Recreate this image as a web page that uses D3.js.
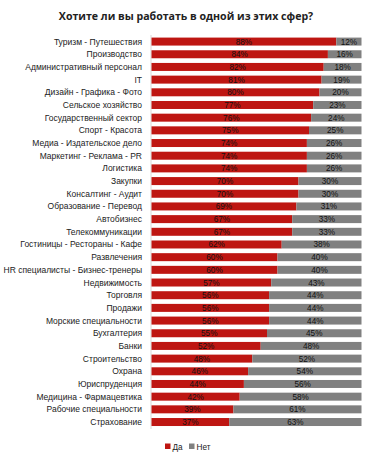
<!DOCTYPE html>
<html><head><meta charset="utf-8">
<script src="https://cdn.jsdelivr.net/npm/d3@7"></script>
<style>body{margin:0;background:#fff;}svg{display:block;}</style>
</head><body>
<script>
const categories = ["Туризм - Путешествия","Производство","Административный  персонал","IT","Дизайн - Графика - Фото","Сельское хозяйство","Государственный сектор","Спорт - Красота","Медиа - Издательское дело","Маркетинг - Реклама - PR","Логистика","Закупки","Консалтинг - Аудит","Образование - Перевод","Автобизнес","Телекоммуникации","Гостиницы - Рестораны - Кафе","Развлечения","HR специалисты - Бизнес-тренеры","Недвижимость","Торговля","Продажи","Морские специальности","Бухгалтерия","Банки","Строительство","Охрана","Юриспруденция","Медицина  - Фармацевтика","Рабочие специальности","Страхование"];
const yes = [88,84,82,81,80,77,76,75,74,74,74,70,70,69,67,67,62,60,60,57,56,56,56,55,52,48,46,44,42,39,37];
const no  = [12,16,18,19,20,23,24,25,26,26,26,30,30,31,33,33,38,40,40,43,44,44,44,45,48,52,54,56,58,61,63];
const seriesNames = ["Да","Нет"];
const colors = ["#BE1612","#808080"];

const W=372,H=461;
const svg=d3.select("body").append("svg").attr("width",W).attr("height",H);
const font="'Liberation Sans', Arial, sans-serif";

svg.append("text").attr("x",186).attr("y",20).attr("text-anchor","middle")
  .attr("font-family","'Open Sans', sans-serif").attr("font-weight","bold").attr("font-size",10.6)
  .attr("fill","#222").text("Хотите ли вы работать  в одной из этих сфер?");

const x=d3.scaleLinear().domain([0,100]).range([151.5,361.5]);
const y=d3.scaleBand().domain(categories).range([35.3,428.3]).paddingInner(0.37).paddingOuter(0.18);

svg.append("line").attr("x1",151).attr("x2",151).attr("y1",35).attr("y2",429)
  .attr("stroke","#d9d9d9").attr("stroke-width",1);

const rows=categories.map((c,i)=>({c,vals:[yes[i],no[i]]}));
rows.forEach(r=>{
  let acc=0;
  r.vals.forEach((v,k)=>{
    const x0=x(acc),x1=x(acc+v);
    svg.append("rect").attr("x",x0).attr("y",y(r.c)).attr("width",x1-x0).attr("height",y.bandwidth())
      .attr("fill",colors[k]);
    svg.append("text").attr("x",(x0+x1)/2).attr("y",y(r.c)+y.bandwidth()/2+3)
      .attr("text-anchor","middle").attr("font-family",font).attr("font-size",8.2)
      .attr("fill","#111").text(v+"%");
    acc+=v;
  });
  svg.append("text").attr("x",142).attr("y",y(r.c)+y.bandwidth()/2+3)
    .attr("text-anchor","end").attr("font-family",font).attr("font-size",8.5)
    .attr("fill","#222").text(r.c);
});

const lx=[165,189];
seriesNames.forEach((s,k)=>{
  svg.append("rect").attr("x",lx[k]).attr("y",443.5).attr("width",5.5).attr("height",5.5).attr("fill",colors[k]);
  svg.append("text").attr("x",lx[k]+7.5).attr("y",449.5).attr("font-family",font).attr("font-size",8.2)
    .attr("fill","#222").text(s);
});
</script>
</body></html>
